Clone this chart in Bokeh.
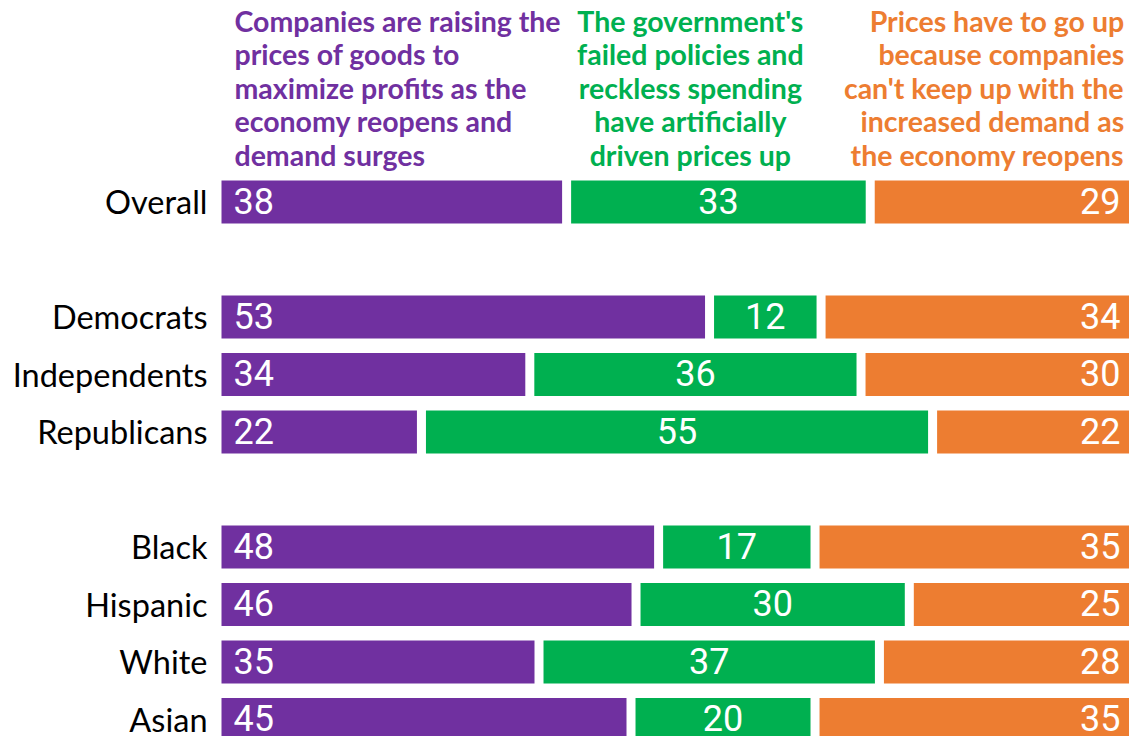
from bokeh.plotting import figure
from bokeh.models import Range1d, ColumnDataSource
from bokeh.core.properties import value
from bokeh.embed import file_html
from bokeh.resources import INLINE

# ---- data ----
groups = [["Overall"],
          ["Democrats", "Independents", "Republicans"],
          ["Black", "Hispanic", "White", "Asian"]]
companies = [38, 53, 34, 22, 48, 46, 35, 45]
government = [33, 12, 36, 55, 17, 30, 37, 20]
demand = [29, 34, 30, 22, 35, 25, 28, 35]

header_companies = ["Companies are raising the", "prices of goods to",
                    "maximize profits as the", "economy reopens and",
                    "demand surges"]
header_government = ["The government's", "failed policies and",
                     "reckless spending", "have artificially",
                     "driven prices up"]
header_demand = ["Prices have to go up", "because companies",
                 "can't keep up with the", "increased demand as",
                 "the economy reopens"]

PURPLE = "#7030A0"
GREEN = "#00B050"
ORANGE = "#ED7D31"

# ---- layout (rows with a blank row between groups) ----
categories, ypos = [], []
r = 0
for g in groups:
    for c in g:
        categories.append(c)
        ypos.append(r)
        r += 1
    r += 1

GAP = 0.98
BAR_H = 0.75

seg_left = {0: [], 1: [], 2: []}
seg_right = {0: [], 1: [], 2: []}
for a, b, c in zip(companies, government, demand):
    tot = a + b + c
    bounds = [0, a / tot * 100, (a + b) / tot * 100, 100]
    for k in range(3):
        seg_left[k].append(bounds[k] + GAP / 2)
        seg_right[k].append(bounds[k + 1] - GAP / 2)

p = figure(width=1129, height=736,
           x_range=Range1d(-23.53, 99.18),
           y_range=Range1d(9.296, -3.504),
           output_backend="svg", toolbar_location=None,
           min_border=0, min_border_left=0, min_border_right=0,
           min_border_top=0, min_border_bottom=0)
p.axis.visible = False
p.grid.visible = False
p.outline_line_color = None
p.background_fill_color = "white"
p.border_fill_color = "white"

colors = [PURPLE, GREEN, ORANGE]
for k in range(3):
    src = ColumnDataSource(dict(y=ypos, left=seg_left[k], right=seg_right[k]))
    p.hbar(y="y", left="left", right="right", height=BAR_H, source=src,
           fill_color=colors[k], line_color=None)

NUM_FONT = value("Roboto")
NUM_SIZE = "36px"
num_y = [y - 0.02 for y in ypos]
# purple value labels (left aligned)
p.text(x=[l + 1.3 for l in seg_left[0]], y=num_y, text=[str(v) for v in companies],
       text_align="left", text_baseline="middle", text_color="white",
       text_font=NUM_FONT, text_font_size=NUM_SIZE)
# green value labels (centred)
p.text(x=[(l + rr) / 2 for l, rr in zip(seg_left[1], seg_right[1])], y=num_y,
       text=[str(v) for v in government],
       text_align="center", text_baseline="middle", text_color="white",
       text_font=NUM_FONT, text_font_size=NUM_SIZE)
# orange value labels (right aligned)
p.text(x=[rr - 1.3 for rr in seg_right[2]], y=num_y, text=[str(v) for v in demand],
       text_align="right", text_baseline="middle", text_color="white",
       text_font=NUM_FONT, text_font_size=NUM_SIZE)

# category labels
p.text(x=[-1.03] * len(categories), y=ypos, text=categories,
       text_align="right", text_baseline="middle", text_color="black",
       text_font=value("Lato"), text_font_size="32.5px")

# headers
HEAD_FONT = value("Lato")
HEAD_SIZE = "28.5px"
line_y = [-3.155 + 0.583 * i for i in range(5)]
p.text(x=[1.9] * 5, y=line_y, text=header_companies, text_align="left",
       text_baseline="middle", text_color=PURPLE, text_font=HEAD_FONT,
       text_font_size=HEAD_SIZE, text_font_style="bold")
p.text(x=[51.45] * 5, y=line_y, text=header_government, text_align="center",
       text_baseline="middle", text_color=GREEN, text_font=HEAD_FONT,
       text_font_size=HEAD_SIZE, text_font_style="bold")
p.text(x=[98.6] * 5, y=line_y, text=header_demand, text_align="right",
       text_baseline="middle", text_color=ORANGE, text_font=HEAD_FONT,
       text_font_size=HEAD_SIZE, text_font_style="bold")

open("out.html", "w").write(file_html(p, INLINE))
